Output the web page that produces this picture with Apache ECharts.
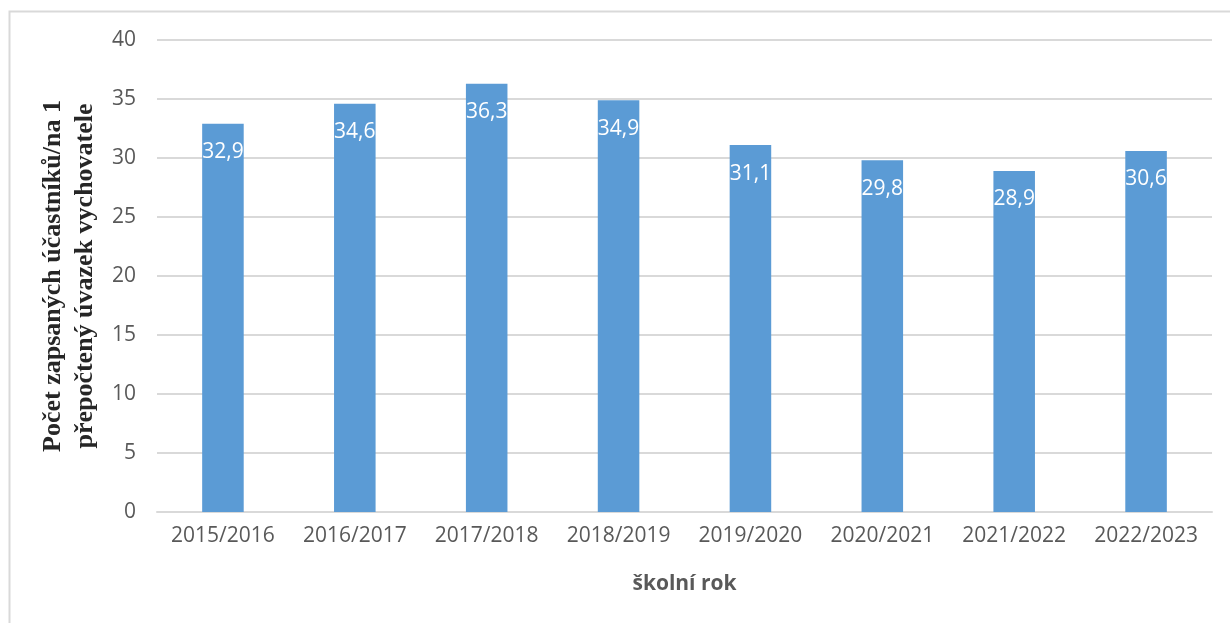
<!DOCTYPE html>
<html><head><meta charset="utf-8">
<script src="https://cdn.jsdelivr.net/npm/echarts@6/dist/echarts.min.js"></script>
<style>html,body{margin:0;padding:0;background:#fff}#c{width:1230px;height:623px}</style>
</head><body><div id="c"></div>
<script>
const categories = ['2015/2016','2016/2017','2017/2018','2018/2019','2019/2020','2020/2021','2021/2022','2022/2023'];
const values = [32.9, 34.6, 36.3, 34.9, 31.1, 29.8, 28.9, 30.6];
const yTitleLines = ['Počet zapsaných účastníků/na 1', 'přepočtený úvazek vychovatele'];
const xTitle = 'školní rok';

const chart = echarts.init(document.getElementById('c'), null, {renderer:'canvas'});
chart.setOption({
  animation:false,
  graphic:[{type:'rect', shape:{x:9.5,y:11.5,width:1240,height:640}, style:{fill:'none', stroke:'#d9d9d9', lineWidth:2}, silent:true}],
  grid:{left:157, right:18, top:40, bottom:111, containLabel:false},
  xAxis:{type:'category', data:categories,
    axisLine:{show:true, lineStyle:{color:'#d9d9d9', width:2}}, axisTick:{show:false},
    axisLabel:{color:'#595959', fontFamily:'Open Sans', fontSize:21, margin:14, interval:0},
    name:xTitle, nameLocation:'middle', nameGap:62,
    nameTextStyle:{color:'#595959', fontFamily:'Open Sans', fontWeight:'bold', fontSize:21}
  },
  yAxis:{type:'value', min:0, max:40, interval:5,
    axisLine:{show:false}, axisTick:{show:false},
    splitLine:{lineStyle:{color:'#d9d9d9', width:2}},
    axisLabel:{color:'#595959', fontFamily:'Open Sans', fontSize:21, margin:21},
    name:yTitleLines.join('\n'), nameLocation:'middle', nameRotate:90, nameGap:56, nameMoveOverlap:false,
    nameTextStyle:{color:'#262626', fontFamily:'Liberation Serif', fontWeight:'bold', fontSize:26, lineHeight:32, align:'center'}
  },
  series:[{type:'bar', data:values, barWidth:'31.5%', itemStyle:{color:'#5b9bd5'},
    label:{show:true, position:'insideTop', distance:18, color:'#ffffff', fontFamily:'Open Sans', fontSize:21,
      formatter:p=>String(p.value).replace('.',',')}
  }]
});
</script></body></html>
